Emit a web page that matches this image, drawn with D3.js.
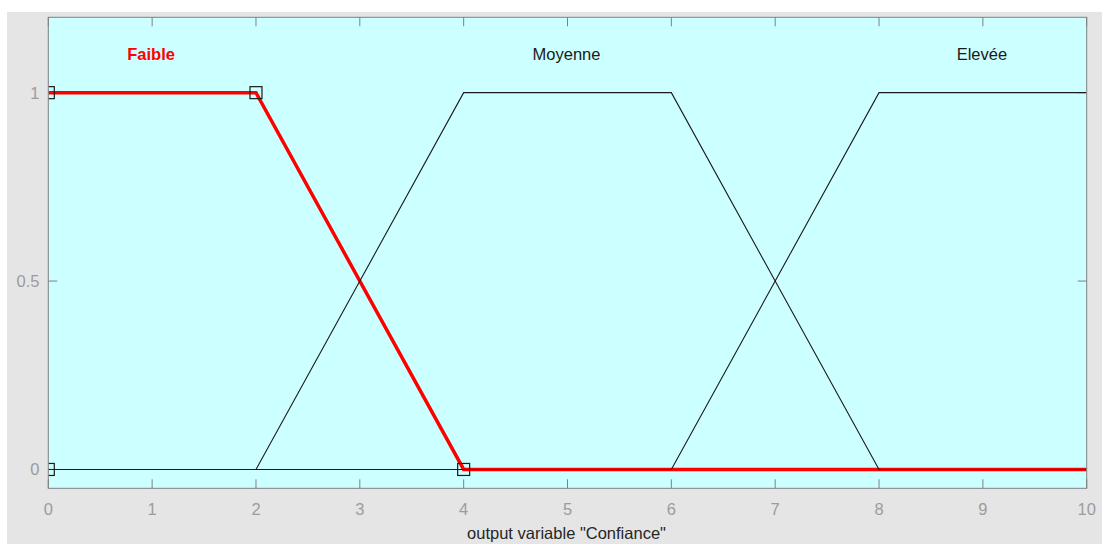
<!DOCTYPE html>
<html><head><meta charset="utf-8">
<script src="https://cdn.jsdelivr.net/npm/d3@7"></script>
<style>body{margin:0;background:#fff;}svg{display:block;font-family:"Liberation Sans",Arial,sans-serif;}</style>
</head><body><svg id="c" width="1102" height="545"></svg>
<script>
const xTicks = [0,1,2,3,4,5,6,7,8,9,10];
const yTicks = [0,0.5,1];
const yTickLabels = ["0","0.5","1"];
const mfNames = ["Faible","Moyenne","Elevée"];
const mfLabelX = [1,5,9];
const faibleX = [0,2,4,10];
const faibleY = [1,1,0,0];
const moyenneX = [0,2,4,6,8,10];
const moyenneY = [0,0,1,1,0,0];
const eleveeX = [0,6,8,10];
const eleveeY = [0,0,1,1];
const markerX = [0,0,2,4];
const markerY = [0,1,1,0];
const xLabel = 'output variable "Confiance"';

const svg = d3.select("#c");
svg.append("rect").attr("x",7).attr("y",12).attr("width",1095).attr("height",532).attr("fill","#e5e5e5");
const L=48.3,R=1086.7,T=17.3,B=488.3;
const x = d3.scaleLinear().domain([0,10]).range([L,R]);
const y = d3.scaleLinear().domain([-0.05,1.2]).range([B,T]);
svg.append("rect").attr("x",L).attr("y",T).attr("width",R-L).attr("height",B-T).attr("fill","#ccffff");
svg.append("clipPath").attr("id","clip").append("rect").attr("x",L).attr("y",T).attr("width",R-L).attr("height",B-T);

const tickCol="#808080";
const g = svg.append("g");
xTicks.forEach(t=>{
  g.append("line").attr("x1",x(t)).attr("x2",x(t)).attr("y1",B).attr("y2",B-9).attr("stroke",tickCol);
  g.append("line").attr("x1",x(t)).attr("x2",x(t)).attr("y1",T).attr("y2",T+9).attr("stroke",tickCol);
  g.append("text").attr("x",x(t)).attr("y",515).attr("text-anchor","middle").attr("font-size",16.5).attr("fill","#9c9c9c").text(t);
});
yTicks.forEach((t,i)=>{
  g.append("line").attr("x1",L).attr("x2",L+9).attr("y1",y(t)).attr("y2",y(t)).attr("stroke",tickCol);
  g.append("line").attr("x1",R).attr("x2",R-9).attr("y1",y(t)).attr("y2",y(t)).attr("stroke",tickCol);
  g.append("text").attr("x",39.5).attr("y",y(t)+6).attr("text-anchor","end").attr("font-size",16.5).attr("fill","#9c9c9c").text(yTickLabels[i]);
});

const line = d3.line().x(d=>x(d[0])).y(d=>y(d[1]));
const plot = svg.append("g").attr("clip-path","url(#clip)");
plot.append("path").datum(d3.zip(faibleX,faibleY)).attr("d",line).attr("fill","none").attr("stroke","#ff0000").attr("stroke-width",3.5);
[[moyenneX,moyenneY],[eleveeX,eleveeY]].forEach(([xs,ys])=>{
  plot.append("path").datum(d3.zip(xs,ys)).attr("d",line).attr("fill","none").attr("stroke","#1a1a1a").attr("stroke-width",1.1);
});
d3.zip(markerX,markerY).forEach(d=>{
  plot.append("rect").attr("x",x(d[0])-6).attr("y",y(d[1])-6).attr("width",12).attr("height",12)
    .attr("fill","none").attr("stroke","#1a1a1a").attr("stroke-width",1.2);
});

svg.append("rect").attr("x",L).attr("y",T).attr("width",R-L).attr("height",B-T).attr("fill","none").attr("stroke",tickCol).attr("stroke-width",1);

mfNames.forEach((n,i)=>{
  svg.append("text").attr("x",x(mfLabelX[i])-1).attr("y",60).attr("text-anchor","middle").attr("font-size",16.5)
    .attr("font-weight",i===0?"bold":"normal").attr("fill",i===0?"#ff0000":"#1a1a1a").text(n);
});
svg.append("text").attr("x",566.5).attr("y",539).attr("text-anchor","middle").attr("font-size",16.5).attr("fill","#262626").text(xLabel);
</script></body></html>
